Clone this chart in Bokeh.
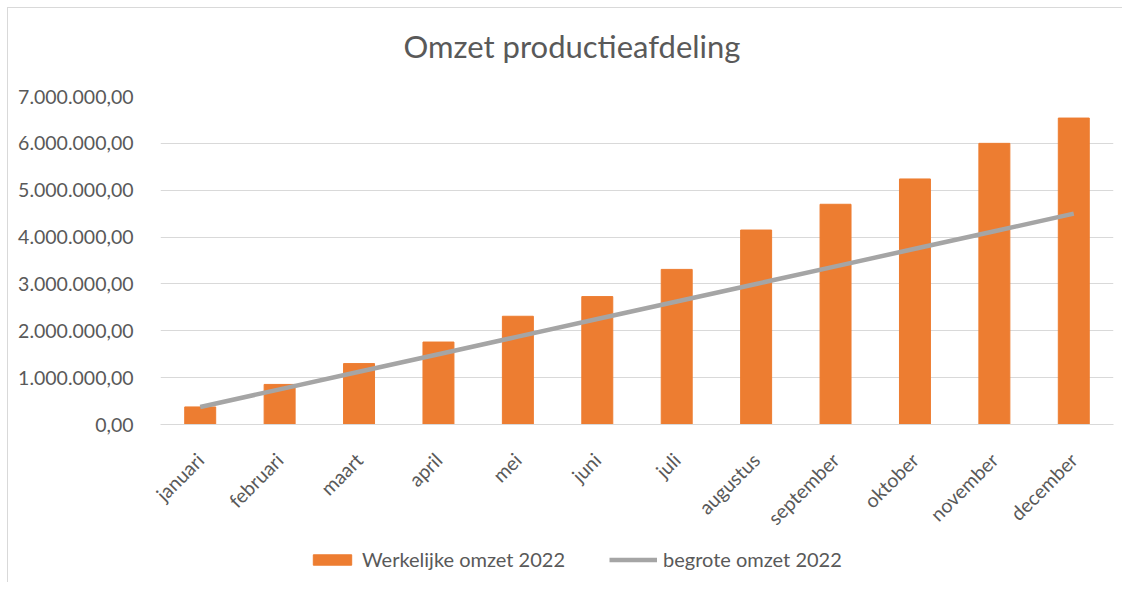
from math import pi
from bokeh.plotting import figure
from bokeh.layouts import column
from bokeh.models import (FactorRange, Range1d, FixedTicker, CustomJSTickFormatter,
                          Legend, LegendItem, Title)
from bokeh.embed import file_html
from bokeh.resources import INLINE

months = ["januari", "februari", "maart", "april", "mei", "juni", "juli",
          "augustus", "september", "oktober", "november", "december"]
werkelijke = [375000, 855000, 1300000, 1760000, 2310000, 2730000, 3310000,
              4150000, 4700000, 5240000, 6000000, 6540000]
begrote = [375000, 750000, 1125000, 1500000, 1875000, 2250000, 2625000,
           3000000, 3375000, 3750000, 4125000, 4500000]
y_ticks = [0, 1000000, 2000000, 3000000, 4000000, 5000000, 6000000, 7000000]
series_names = ["Werkelijke omzet 2022", "begrote omzet 2022"]

TEXT = "#595959"
GRID = "#D9D9D9"
BAR = "#ED7D31"
LINE = "#A5A5A5"
FONT = "Lato"
FS = "19.5px"

x_range = FactorRange(*months)
p = figure(x_range=x_range, y_range=Range1d(0, 7000000),
           width=1114, height=532, output_backend="svg", toolbar_location=None,
           min_border_left=152, min_border_right=9, min_border_top=88,
           min_border_bottom=116)

p.title = Title(text="Omzet productieafdeling", align="left",
                padding={"left": 243, "right": 0, "top": 0, "bottom": 27},
                text_font=FONT, text_font_size="31px", text_font_style="normal",
                text_color=TEXT)

p.vbar(x=months, top=werkelijke, width=0.39, color=BAR)
p.line(x=months, y=begrote, line_color=LINE, line_width=4.5)

p.outline_line_color = None
p.xgrid.grid_line_color = None
p.ygrid.grid_line_color = GRID
p.ygrid.grid_line_width = 1

p.yaxis.ticker = FixedTicker(ticks=y_ticks)
p.yaxis.formatter = CustomJSTickFormatter(code="""
const s = tick.toFixed(2);
const parts = s.split('.');
return parts[0].replace(/\\B(?=(\\d{3})+(?!\\d))/g, '.') + ',' + parts[1];
""")
p.yaxis.axis_line_color = None
p.yaxis.major_tick_line_color = None
p.yaxis.minor_tick_line_color = None
p.yaxis.major_label_standoff = 21
p.yaxis.major_label_text_font = FONT
p.yaxis.major_label_text_font_size = FS
p.yaxis.major_label_text_color = TEXT

p.xaxis.axis_line_color = GRID
p.xaxis.major_tick_line_color = None
p.xaxis.minor_tick_line_color = None
p.xaxis.major_label_orientation = pi / 4
p.xaxis.major_label_standoff = 26
p.xaxis.major_label_text_font = FONT
p.xaxis.major_label_text_font_size = FS
p.xaxis.major_label_text_color = TEXT

# legend strip: a second figure (frames are aligned with the chart); its copies
# of the series are hidden, so only the legend shows
lg = figure(width=1114, height=42, output_backend="svg", toolbar_location=None,
            x_range=x_range, y_range=Range1d(-2, -1),
            min_border_left=152, min_border_right=9,
            min_border_top=0, min_border_bottom=0)
lg.axis.visible = False
lg.grid.visible = False
lg.outline_line_color = None
lb = lg.vbar(x=months, top=werkelijke, width=0.39, color=BAR, visible=False)
ll = lg.line(x=months, y=begrote, line_color=LINE, line_width=4.5, visible=False)
legend = Legend(items=[LegendItem(label=series_names[0], renderers=[lb]),
                       LegendItem(label=series_names[1], renderers=[ll])],
                orientation="horizontal", location=(148, 11), margin=0,
                glyph_width=48, glyph_height=13, label_standoff=6, spacing=44,
                padding=5, border_line_color=None, background_fill_alpha=0,
                inactive_fill_alpha=0,
                label_text_font=FONT, label_text_font_size="20px",
                label_text_color=TEXT)
lg.add_layout(legend, "center")

layout = column(p, lg, spacing=0)
layout.styles = {"margin-left": "7px", "margin-top": "7px",
                 "border-left": "1px solid #D9D9D9", "border-top": "1px solid #D9D9D9"}

open("out.html", "w").write(file_html(layout, INLINE))
